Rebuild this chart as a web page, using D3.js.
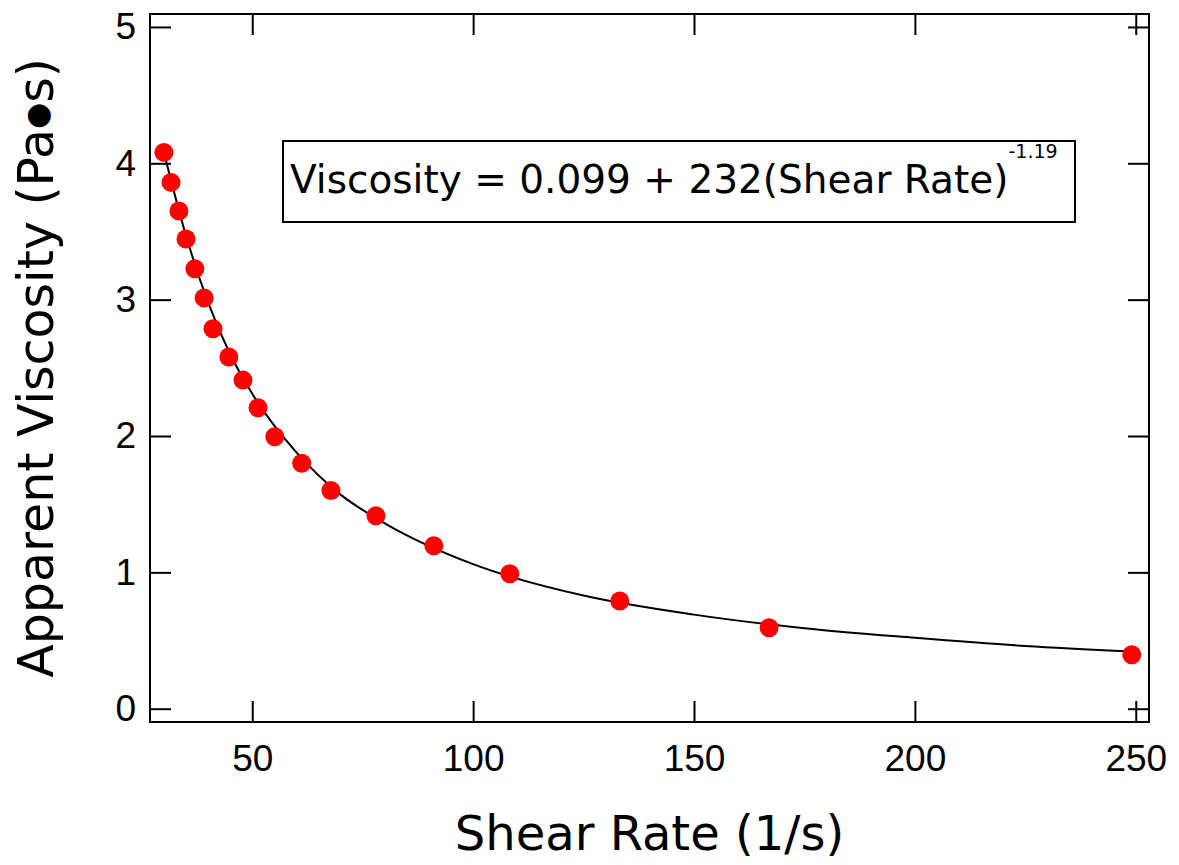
<!DOCTYPE html>
<html>
<head>
<meta charset="utf-8">
<script src="https://cdn.jsdelivr.net/npm/d3@7"></script>
<style>
  body { margin: 0; background: #fff; }
  svg { display: block; font-family: "DejaVu Sans", sans-serif; }
</style>
</head>
<body>
<svg id="chart" width="1179" height="865"></svg>
<script>
// measured points
const shearRate = [30.0, 31.6, 33.4, 35.0, 37.0, 39.1, 41.1, 44.7, 47.9, 51.3, 55.1, 61.2, 67.8, 78.0, 91.1, 108.3, 133.2, 167.0, 249.1];
const viscosity = [4.08, 3.86, 3.65, 3.445, 3.226, 3.013, 2.786, 2.58, 2.41, 2.207, 1.994, 1.80, 1.60, 1.415, 1.195, 0.99, 0.79, 0.594, 0.396];

// fitted curve
const fitRate = [30, 35, 40, 45, 50, 60, 70, 80, 100, 125, 150, 175, 200, 225, 249];
const fitViscosity = [4.08, 3.47, 2.98, 2.60, 2.31, 1.88, 1.57, 1.36, 1.06, 0.83, 0.69, 0.59, 0.52, 0.46, 0.42];

const xTicks = [50, 100, 150, 200, 250];
const yTicks = [0, 1, 2, 3, 4, 5];

const eqText = "Viscosity = 0.099 + 232(Shear Rate)";
const eqExp = "-1.19";

const svg = d3.select('#chart');
const margin = {top: 14, right: 30, bottom: 143, left: 150};
const width = 1179 - margin.left - margin.right;
const height = 865 - margin.top - margin.bottom;

const x = d3.scaleLinear().domain([26.85, 253.0]).range([0, width]);
const y = d3.scaleLinear().domain([-0.0975, 5.095]).range([height, 0]);

const g = svg.append('g').attr('transform', `translate(${margin.left},${margin.top})`);

const tickLen = 21;
function styleAxis(sel, labels) {
  sel.selectAll('.domain').remove();
  sel.selectAll('.tick line').attr('stroke', '#000').attr('stroke-width', 2);
  sel.selectAll('.tick text').attr('fill', '#000').attr('font-size', 37);
  if (!labels) sel.selectAll('.tick text').remove();
}

g.append('g')
  .attr('transform', `translate(0,${height})`)
  .call(d3.axisBottom(x).tickValues(xTicks).tickSizeInner(-tickLen).tickSizeOuter(0))
  .call(s => styleAxis(s, true))
  .selectAll('.tick text').attr('dy', '0.71em').attr('y', 23);

g.append('g')
  .call(d3.axisTop(x).tickValues(xTicks).tickSizeInner(-tickLen).tickSizeOuter(0))
  .call(s => styleAxis(s, false));

g.append('g')
  .call(d3.axisLeft(y).tickValues(yTicks).tickSizeInner(-tickLen).tickSizeOuter(0).tickFormat(d3.format('d')))
  .call(s => styleAxis(s, true))
  .selectAll('.tick text').attr('x', -14);

g.append('g')
  .attr('transform', `translate(${width},0)`)
  .call(d3.axisRight(y).tickValues(yTicks).tickSizeInner(-tickLen).tickSizeOuter(0))
  .call(s => styleAxis(s, false));

// frame
g.append('rect')
  .attr('width', width).attr('height', height)
  .attr('fill', 'none').attr('stroke', '#000').attr('stroke-width', 2);

// fit line
const line = d3.line()
  .x((d, i) => x(fitRate[i]))
  .y(d => y(d))
  .curve(d3.curveMonotoneX);

g.append('path')
  .datum(fitViscosity)
  .attr('d', line)
  .attr('fill', 'none')
  .attr('stroke', '#000')
  .attr('stroke-width', 2);

// data points
g.selectAll('circle.pt')
  .data(viscosity)
  .enter().append('circle')
  .attr('class', 'pt')
  .attr('cx', (d, i) => x(shearRate[i]))
  .attr('cy', d => y(d))
  .attr('r', 9.5)
  .attr('fill', '#ff0000');

// equation box
svg.append('rect')
  .attr('x', 283).attr('y', 141).attr('width', 792).attr('height', 81)
  .attr('fill', '#fff').attr('stroke', '#000').attr('stroke-width', 2);

const eq = svg.append('text')
  .attr('x', 290).attr('y', 193)
  .attr('fill', '#000');
eq.append('tspan').attr('font-size', 39).text(eqText);
eq.append('tspan').attr('font-size', 19).attr('dy', -35).text(eqExp);

// axis titles
svg.append('text')
  .attr('x', margin.left + width / 2)
  .attr('y', 850)
  .attr('text-anchor', 'middle')
  .attr('font-size', 48)
  .text('Shear Rate (1/s)');

const yTitle = svg.append('text')
  .attr('transform', `translate(53,${margin.top + height / 2}) rotate(-90)`)
  .attr('text-anchor', 'middle')
  .attr('font-size', 49);
yTitle.append('tspan').text('Apparent Viscosity (Pa');
yTitle.append('tspan').attr('font-size', 30).attr('dy', -6).text('●');
yTitle.append('tspan').attr('dy', 6).text('s)');
</script>
</body>
</html>
